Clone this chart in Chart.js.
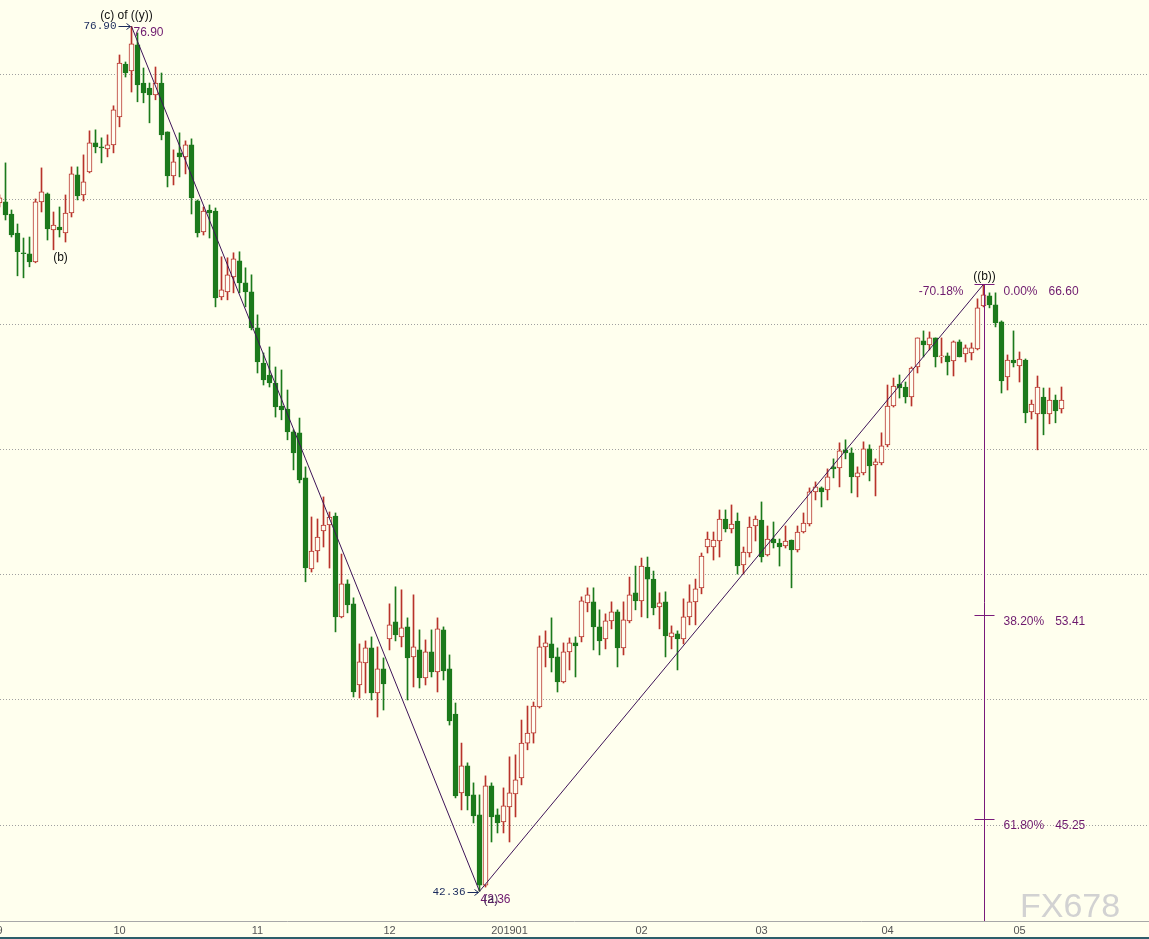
<!DOCTYPE html>
<html>
<head>
<meta charset="utf-8">
<script src="https://cdn.jsdelivr.net/npm/chart.js@4.4.1/dist/chart.umd.min.js"></script>
<style>
  html, body { margin: 0; padding: 0; background: #ffffee; }
  canvas { display: block; }
</style>
</head>
<body>
<canvas id="chart" width="1149" height="939"></canvas>
<script>
const monthIdx = [0, 20, 43, 65, 85, 107, 127, 148, 170];
const monthLabels = ['9', '10', '11', '12', '201901', '02', '03', '04', '05'];

const opens = [
  69.85, 69.89, 69.41, 68.65, 67.86, 67.82, 67.50, 69.89, 70.21, 68.77,
  68.89, 68.65, 69.45, 70.97, 70.17, 71.09, 72.25, 72.09, 72.01, 72.17,
  73.29, 75.40, 75.12, 76.16, 74.64, 74.44, 74.16, 74.64, 72.69, 70.93,
  71.85, 71.69, 72.17, 69.93, 68.69, 69.57, 69.53, 66.10, 66.30, 66.90,
  67.54, 66.66, 66.30, 64.86, 63.46, 62.98, 62.66, 61.74, 61.62, 60.71,
  60.67, 58.87, 55.23, 55.95, 56.75, 56.99, 57.35, 53.32, 54.64, 53.84,
  50.60, 51.48, 52.08, 50.28, 51.24, 52.44, 53.12, 52.52, 52.92, 51.72,
  52.00, 50.88, 51.92, 51.12, 52.80, 51.24, 49.44, 46.29, 47.37, 46.21,
  45.41, 42.61, 46.57, 45.41, 45.13, 45.73, 46.25, 46.89, 48.28, 48.68,
  49.72, 52.12, 52.24, 51.72, 50.72, 51.92, 52.28, 52.52, 53.88, 53.92,
  52.92, 52.44, 53.16, 53.52, 52.08, 53.16, 54.28, 53.96, 55.31, 54.83,
  53.72, 53.92, 52.52, 52.64, 52.44, 53.32, 53.92, 54.48, 56.11, 56.11,
  56.35, 57.23, 56.83, 57.15, 55.39, 55.87, 56.95, 57.19, 55.79, 56.43,
  56.27, 56.15, 56.39, 55.99, 56.71, 57.03, 58.31, 58.47, 58.39, 59.31,
  59.27, 59.99, 59.87, 58.91, 59.07, 60.03, 59.39, 59.47, 60.19, 61.74,
  62.62, 62.50, 62.10, 63.30, 64.34, 64.18, 64.46, 63.70, 63.74, 63.54,
  64.30, 63.82, 63.86, 64.02, 65.74, 66.14, 65.78, 65.10, 62.90, 63.58,
  63.34, 63.58, 61.50, 61.42, 62.10, 61.42, 61.98, 61.62
];
const highs = [
  70.17, 71.45, 69.57, 69.01, 68.45, 68.49, 70.01, 71.25, 70.25, 69.49,
  69.69, 70.17, 71.29, 71.29, 71.77, 72.73, 72.77, 72.45, 72.57, 73.73,
  75.76, 75.48, 76.90, 76.64, 75.24, 74.64, 75.28, 75.04, 72.69, 71.97,
  72.65, 72.33, 72.41, 69.97, 69.69, 69.77, 69.65, 67.70, 67.66, 67.86,
  67.90, 67.26, 66.98, 65.38, 63.86, 64.10, 63.30, 63.18, 62.38, 60.79,
  61.26, 59.31, 57.31, 57.23, 58.11, 57.51, 57.47, 55.83, 54.80, 54.08,
  52.24, 52.36, 52.52, 52.12, 51.68, 53.84, 54.52, 54.40, 53.28, 54.20,
  52.80, 52.40, 52.80, 53.28, 52.92, 51.80, 49.88, 48.28, 47.49, 46.69,
  46.21, 46.97, 46.69, 45.65, 46.49, 47.73, 47.81, 49.20, 49.76, 49.92,
  52.56, 52.76, 53.28, 52.08, 52.28, 52.48, 52.52, 54.12, 54.48, 54.48,
  53.60, 53.44, 53.92, 53.60, 53.92, 54.91, 55.35, 55.67, 55.71, 55.15,
  54.28, 54.32, 52.96, 52.76, 54.04, 54.60, 54.83, 55.87, 56.71, 56.71,
  57.59, 57.59, 57.79, 57.47, 56.11, 57.31, 57.35, 57.91, 56.95, 57.11,
  56.43, 56.95, 56.39, 56.95, 57.47, 58.47, 58.71, 58.51, 59.23, 59.63,
  60.27, 60.39, 60.07, 59.31, 60.31, 60.19, 59.63, 60.67, 62.58, 62.86,
  62.98, 62.70, 63.30, 64.46, 64.74, 64.70, 64.46, 64.46, 63.86, 64.34,
  64.38, 64.18, 64.26, 66.02, 66.60, 66.26, 66.26, 65.14, 63.78, 64.74,
  63.90, 63.62, 61.98, 62.94, 62.46, 62.46, 62.18, 62.50
];
const lows = [
  69.69, 69.17, 68.49, 66.94, 66.86, 67.30, 67.46, 69.49, 68.37, 67.98,
  68.49, 68.29, 69.29, 69.97, 69.93, 71.05, 71.85, 71.45, 71.69, 71.85,
  72.89, 74.88, 74.28, 73.89, 73.85, 73.05, 73.97, 72.37, 70.49, 70.57,
  70.89, 71.01, 69.41, 68.49, 68.57, 68.45, 65.70, 65.98, 65.98, 66.26,
  66.26, 65.70, 64.78, 63.06, 62.58, 62.50, 61.30, 61.19, 60.39, 59.19,
  58.67, 54.72, 55.11, 55.51, 56.11, 55.27, 52.72, 53.28, 53.48, 50.12,
  50.08, 50.28, 50.00, 49.32, 49.60, 52.00, 52.36, 52.12, 50.00, 50.52,
  50.48, 50.60, 50.92, 50.32, 50.80, 49.00, 46.09, 45.61, 45.61, 45.09,
  42.36, 42.53, 44.33, 44.69, 44.69, 44.33, 45.33, 46.61, 48.01, 48.28,
  49.68, 51.32, 51.12, 50.32, 50.68, 51.20, 50.92, 52.32, 53.52, 52.00,
  51.80, 52.04, 52.84, 51.32, 51.80, 53.08, 53.60, 53.32, 53.28, 53.40,
  52.84, 51.72, 52.04, 51.20, 52.24, 53.00, 53.00, 54.24, 55.87, 55.59,
  55.71, 56.71, 56.67, 55.03, 55.03, 55.71, 56.35, 55.51, 55.75, 56.07,
  55.35, 56.07, 54.48, 55.91, 56.67, 56.95, 57.99, 57.71, 57.99, 58.87,
  58.51, 59.63, 58.27, 58.11, 58.99, 58.75, 58.15, 59.39, 60.11, 61.70,
  62.06, 61.86, 61.74, 63.06, 63.70, 63.98, 63.30, 63.46, 62.98, 62.94,
  63.70, 63.50, 63.58, 63.98, 65.70, 65.66, 64.90, 62.26, 62.38, 63.30,
  62.70, 61.07, 61.22, 59.99, 60.59, 61.03, 61.07, 61.46
];
const closes = [
  70.05, 69.37, 68.57, 67.90, 67.82, 67.50, 69.89, 70.29, 68.81, 68.97,
  68.77, 69.45, 71.01, 70.13, 70.69, 72.25, 72.09, 72.05, 72.17, 73.57,
  75.44, 75.04, 76.20, 74.56, 74.24, 74.16, 74.64, 72.57, 70.93, 71.49,
  71.69, 72.17, 70.05, 68.65, 69.53, 69.45, 66.06, 66.38, 66.98, 67.62,
  66.66, 66.30, 64.86, 63.50, 62.78, 62.66, 61.70, 61.58, 60.71, 59.87,
  58.79, 55.27, 55.95, 56.51, 56.99, 57.31, 53.32, 54.64, 53.80, 50.32,
  51.52, 52.08, 50.28, 51.24, 50.64, 53.00, 52.60, 52.88, 51.68, 52.12,
  50.88, 51.92, 51.12, 52.84, 51.16, 49.16, 46.17, 47.37, 46.17, 45.37,
  42.61, 46.57, 45.33, 45.09, 45.77, 46.29, 46.81, 48.28, 48.68, 49.76,
  52.12, 52.28, 51.68, 50.72, 51.92, 52.28, 52.16, 53.96, 54.20, 52.92,
  52.36, 53.16, 53.52, 52.08, 53.20, 54.20, 53.96, 55.35, 54.83, 53.68,
  53.88, 52.56, 52.68, 52.44, 53.32, 53.92, 54.44, 55.75, 56.43, 56.39,
  57.23, 56.83, 57.03, 55.35, 55.91, 56.91, 57.23, 55.71, 56.43, 56.27,
  56.11, 56.35, 55.99, 56.71, 57.07, 58.31, 58.51, 58.31, 58.91, 59.23,
  59.95, 59.87, 58.91, 59.07, 60.03, 59.35, 59.51, 60.15, 61.74, 62.54,
  62.46, 62.10, 63.26, 64.46, 64.18, 64.46, 63.70, 63.74, 63.50, 64.30,
  63.70, 64.06, 64.06, 65.66, 66.18, 65.78, 65.06, 62.74, 63.58, 63.46,
  63.62, 61.46, 61.82, 62.50, 61.42, 61.98, 61.54, 61.98
];

// wave pivots: (c) of ((y)) top, (a) low, ((b)) top
const waveIdx = [22, 80, 164];
const waveVal = [76.90, 42.36, 66.60];
const fibPct = ['0.00%', '38.20%', '61.80%'];
const fibVal = [66.60, 53.41, 45.25];
const retrace = '-70.18%';

const RED = '#b8332b';
const GREEN = '#1c7a1c';
const CREAM = '#ffffee';
const PURPLE = '#6e1a6e';
const NAVY = '#1a2a5c';

const idx = opens.map((_, i) => i);
const up = idx.map(i => closes[i] >= opens[i]);

const bgPlugin = {
  id: 'bg',
  beforeDraw(c) {
    const ctx = c.ctx;
    ctx.save();
    ctx.fillStyle = CREAM;
    ctx.fillRect(0, 0, c.width, c.height);
    ctx.restore();
  }
};

function arrow(ctx, x0, x1, y) {
  ctx.beginPath();
  ctx.moveTo(x0, y);
  ctx.lineTo(x1, y);
  ctx.moveTo(x1 - 4, y - 3);
  ctx.lineTo(x1, y);
  ctx.lineTo(x1 - 4, y + 3);
  ctx.stroke();
}

const notePlugin = {
  id: 'notes',
  afterDatasetsDraw(c) {
    const ctx = c.ctx;
    const xs = c.scales.x, ys = c.scales.y;
    const area = c.chartArea;
    const px = v => xs.getPixelForValue(v);
    const py = v => ys.getPixelForValue(v);
    ctx.save();

    // axis line and bottom border
    ctx.strokeStyle = '#a8a8a8';
    ctx.lineWidth = 1;
    ctx.beginPath();
    ctx.moveTo(0, Math.round(area.bottom) + 0.5);
    ctx.lineTo(c.width, Math.round(area.bottom) + 0.5);
    ctx.stroke();
    ctx.fillStyle = '#2d5e6a';
    ctx.fillRect(0, c.height - 2, c.width, 2);

    // fibonacci ruler
    const fx = Math.round(px(waveIdx[2])) + 0.5;
    ctx.strokeStyle = '#7a1a7a';
    ctx.beginPath();
    ctx.moveTo(fx, py(fibVal[0]));
    ctx.lineTo(fx, area.bottom);
    fibVal.forEach(v => {
      const yy = Math.round(py(v)) + 0.5;
      ctx.moveTo(fx - 10, yy);
      ctx.lineTo(fx + 10, yy);
    });
    ctx.stroke();

    ctx.font = '12px "Liberation Sans", Arial, sans-serif';
    ctx.textBaseline = 'middle';
    ctx.fillStyle = PURPLE;
    fibVal.forEach((v, k) => {
      const yy = py(v) + 7;
      ctx.textAlign = 'left';
      ctx.fillText(fibPct[k], fx + 19, yy);
      const w = ctx.measureText(fibPct[k]).width;
      ctx.fillText(v.toFixed(2), fx + 19 + w + 11, yy);
    });
    ctx.textAlign = 'right';
    ctx.fillText(retrace, fx - 21, py(fibVal[0]) + 7);

    // wave labels
    ctx.fillStyle = '#111';
    ctx.textAlign = 'center';
    ctx.fillText('((b))', fx, py(waveVal[2]) - 8);
    ctx.fillText('(c) of ((y))', px(waveIdx[0]) - 5, py(waveVal[0]) - 11);
    ctx.fillText('(b)', px(10) + 1, py(lows[10]) + 21);

    // top pivot
    const tx = px(waveIdx[0]), ty = Math.round(py(waveVal[0])) + 0.5;
    ctx.font = '11px "Liberation Mono", monospace';
    ctx.fillStyle = NAVY;
    ctx.textAlign = 'right';
    ctx.fillText(waveVal[0].toFixed(2), tx - 15, ty);
    ctx.strokeStyle = NAVY;
    arrow(ctx, tx - 13, tx - 1, ty);
    ctx.font = '12px "Liberation Sans", Arial, sans-serif';
    ctx.fillStyle = PURPLE;
    ctx.textAlign = 'left';
    ctx.fillText(waveVal[0].toFixed(2), tx + 2, ty + 6);

    // low pivot
    const lx = px(waveIdx[1]), ly = Math.round(py(waveVal[1])) + 0.5;
    ctx.font = '11px "Liberation Mono", monospace';
    ctx.fillStyle = NAVY;
    ctx.textAlign = 'right';
    ctx.fillText(waveVal[1].toFixed(2), lx - 14, ly + 1);
    arrow(ctx, lx - 12, lx - 1, ly + 1);
    ctx.font = '12px "Liberation Sans", Arial, sans-serif';
    ctx.textAlign = 'left';
    ctx.fillStyle = PURPLE;
    ctx.fillText(waveVal[1].toFixed(2), lx + 1, ly + 8);
    ctx.fillStyle = '#4a2a5e';
    ctx.fillText('(a)', lx + 4, ly + 8);

    // watermark
    ctx.font = '34px "Liberation Sans", Arial, sans-serif';
    ctx.fillStyle = '#d2d2d2';
    ctx.textBaseline = 'alphabetic';
    ctx.textAlign = 'left';
    ctx.fillText('FX678', 1020, 917);

    ctx.restore();
  }
};

new Chart(document.getElementById('chart'), {
  type: 'bar',
  data: {
    datasets: [
      {
        type: 'line',
        data: waveIdx.map((i, k) => ({x: i, y: waveVal[k]})),
        borderColor: '#3e1458',
        borderWidth: 1,
        pointRadius: 0,
        order: 0
      },
      {
        data: idx.map(i => ({x: i, y: [opens[i], closes[i]]})),
        backgroundColor: idx.map(i => up[i] ? '#fffdf0' : GREEN),
        borderColor: idx.map(i => up[i] ? RED : GREEN),
        borderWidth: 1,
        borderSkipped: false,
        barThickness: 5,
        minBarLength: 1,
        grouped: false,
        order: 1
      },
      {
        data: idx.map(i => ({x: i, y: [lows[i], highs[i]]})),
        backgroundColor: idx.map(i => up[i] ? RED : GREEN),
        borderWidth: 0,
        barThickness: 1,
        grouped: false,
        order: 2
      }
    ]
  },
  options: {
    responsive: false,
    animation: false,
    devicePixelRatio: 1,
    layout: {padding: 0},
    plugins: {legend: {display: false}, tooltip: {enabled: false}},
    scales: {
      x: {
        type: 'linear',
        offset: false,
        min: 0.5 / 6,
        max: 1149.5 / 6,
        grid: {display: false, drawTicks: false},
        border: {display: false},
        afterBuildTicks: s => { s.ticks = monthIdx.map(v => ({value: v})); },
        afterFit: s => {
          s.height = 18;
          s.paddingLeft = 0;
          s.paddingRight = 0;
        },
        ticks: {
          autoSkip: false,
          maxRotation: 0,
          padding: 3,
          color: '#555',
          font: {family: '"Liberation Sans", Arial, sans-serif', size: 11},
          callback: v => monthLabels[monthIdx.indexOf(v)]
        }
      },
      y: {
        min: 75 - 847 / 25.04,
        max: 75 + 74 / 25.04,
        grid: {color: '#a0a0a0', drawTicks: false, tickLength: 0},
        border: {display: false, dash: [1, 2]},
        afterBuildTicks: s => { s.ticks = [45, 50, 55, 60, 65, 70, 75].map(v => ({value: v})); },
        afterFit: s => { s.width = 0; },
        ticks: {display: false}
      }
    }
  },
  plugins: [bgPlugin, notePlugin]
});
</script>
</body>
</html>
